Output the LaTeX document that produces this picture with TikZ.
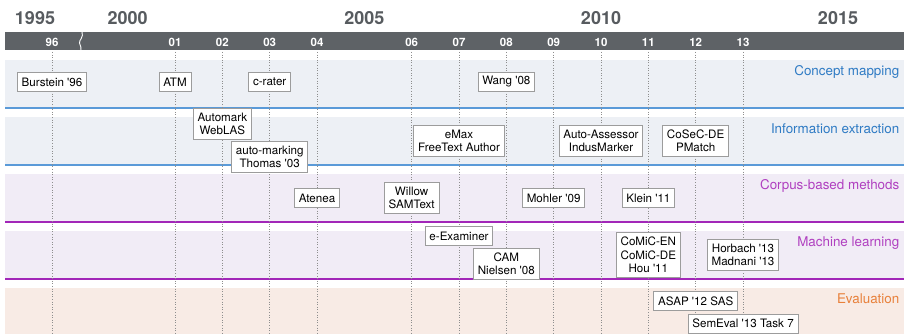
\documentclass[tikz,border=0pt]{standalone}
\usepackage{fontspec}
\setmainfont{TeX Gyre Heros}
\definecolor{barcol}{HTML}{5E6266}
\definecolor{yearcol}{HTML}{575B5F}
\definecolor{bandA}{HTML}{EDF0F5}
\definecolor{bandB}{HTML}{F1ECF6}
\definecolor{bandC}{HTML}{F8EBE5}
\definecolor{lineA}{HTML}{5A9AD8}
\definecolor{lineB}{HTML}{A226B8}
\definecolor{labA}{HTML}{2F7BC4}
\definecolor{labB}{HTML}{B040C0}
\definecolor{labC}{HTML}{E8803A}
\definecolor{boxborder}{HTML}{9C9C9C}
\definecolor{dotcol}{HTML}{8E8E8E}
\newcommand{\q}{\textquotesingle}
\begin{document}
\begin{tikzpicture}[x=1pt,y=-1pt,
  yearlab/.style={font=\bfseries\fontsize{18}{18}\selectfont, text=yearcol, inner sep=0pt},
  ticklab/.style={font=\bfseries\fontsize{11.5}{12}\selectfont, text=white, inner sep=0pt},
  catlab/.style={font=\fontsize{13.4}{13.4}\selectfont, anchor=east, inner sep=0pt},
  sysbox/.style={draw=boxborder, line width=0.8pt, fill=white, align=center,
    font=\fontsize{11.6}{13.5}\selectfont, inner xsep=4.3pt, inner ysep=4.4pt,
    minimum height=19.5pt},
  dotline/.style={draw=dotcol, dotted, line width=0.6pt}
]
\useasboundingbox (0,0) rectangle (904,334);
% bands
\fill[bandA] (5,60) rectangle (904,108);
\fill[bandA] (5,117) rectangle (904,165);
\fill[bandB] (5,174) rectangle (904,222);
\fill[bandB] (5,231) rectangle (904,279);
\fill[bandC] (5,288) rectangle (904,334);
\draw[lineA, line width=1.15pt] (5,108) -- (904,108);
\draw[lineA, line width=1.15pt] (5,165) -- (904,165);
\draw[lineB, line width=1.15pt] (5,222) -- (904,222);
\draw[lineB, line width=1.15pt] (5,279) -- (904,279);
% top bar
\fill[barcol] (5,32) rectangle (904,50.5);
\draw[white, line width=0.9pt] (82,32) .. controls (84,37) and (79,40) .. (79.5,43) .. controls (80,46) and (82,48) .. (81,50.5);
% years
\node[yearlab] (y1995) at (35,18) {1995};
\node[yearlab] (y2000) at (127.7,18) {2000};
\node[yearlab] (y2005) at (364.3,18) {2005};
\node[yearlab] (y2010) at (601,18) {2010};
\node[yearlab] (y2015) at (838,18) {2015};
% ticks
\foreach \lab/\xx in {96/52, 01/175, 02/222.33, 03/269.67, 04/317, 06/411.67, 07/459, 08/506.33, 09/553.67, 10/601, 11/648.33, 12/695.67, 13/743}{
  \node[ticklab] (t\lab) at (\xx,42) {\lab};
  \draw[dotline] (\xx,52) -- (\xx,334);
}
% category labels
\node[catlab, text=labA] (cm) at (899.5,72) {Concept mapping};
\node[catlab, text=labA] (ie) at (899.5,129) {Information extraction};
\node[catlab, text=labB] (cb) at (899.5,186) {Corpus-based methods};
\node[catlab, text=labB] (ml) at (899.5,243) {Machine learning};
\node[catlab, text=labC] (ev) at (899.5,299) {Evaluation};
% systems
\node[sysbox] (burstein) at (52,82) {Burstein \q96};
\node[sysbox] (atm) at (175,82) {ATM};
\node[sysbox] (crater) at (269.67,82) {c-rater};
\node[sysbox] (wang) at (506.33,82) {Wang \q08};
\node[sysbox] (automark) at (222.33,124) {Automark\\WebLAS};
\node[sysbox] (automarking) at (269.67,157) {auto-marking\\Thomas \q03};
\node[sysbox] (emax) at (459,141) {eMax\\FreeText Author};
\node[sysbox] (autoassessor) at (601,141) {Auto-Assessor\\IndusMarker};
\node[sysbox] (cosec) at (695.67,141) {CoSeC-DE\\PMatch};
\node[sysbox] (atenea) at (317,198) {Atenea};
\node[sysbox] (willow) at (411.67,198) {Willow\\SAMText};
\node[sysbox] (mohler) at (553.67,198) {Mohler \q09};
\node[sysbox] (klein) at (648.33,198) {Klein \q11};
\node[sysbox] (eexam) at (459,236) {e-Examiner};
\node[sysbox] (cam) at (506.33,263.7) {CAM\\Nielsen \q08};
\node[sysbox] (comic) at (648.33,255) {CoMiC-EN\\CoMiC-DE\\Hou \q11};
\node[sysbox] (horbach) at (743,255) {Horbach \q13\\Madnani \q13};
\node[sysbox] (asap) at (695.67,301) {ASAP \q12 SAS};
\node[sysbox] (semeval) at (743,323.7) {SemEval \q13 Task 7};
\end{tikzpicture}
\end{document}
